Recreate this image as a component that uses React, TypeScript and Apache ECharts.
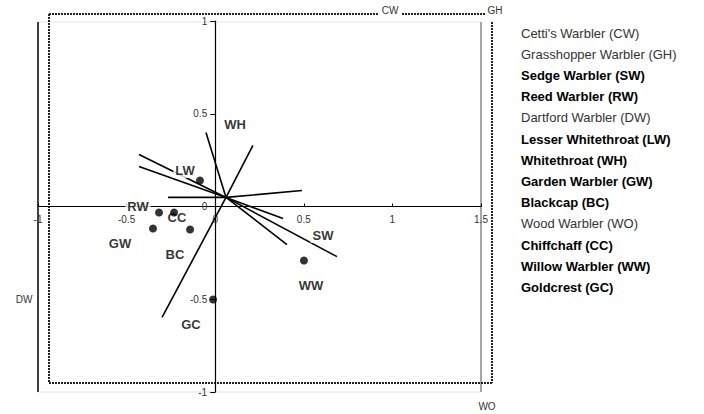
import React, { useEffect, useRef } from "react";
import * as echarts from "echarts";

const FONT = "'Liberation Sans', Arial, Helvetica, sans-serif";

// Origin of the variable vectors (data units)
const vectorOrigin: [number, number] = [0.061, 0.049];
// End points of the variable vectors (data units)
const vectorEndX = [-0.43, -0.43, -0.266, 0.49, -0.052, 0.213, -0.3, 0.383, 0.405, 0.687];
const vectorEndY = [0.28, 0.216, 0.049, 0.086, 0.399, 0.329, -0.598, -0.065, -0.205, -0.27];

// Site / species points
const pointCodes = ["LW", "RW", "CC", "GW", "BC", "WW", "GC"];
const pointX = [-0.086, -0.317, -0.232, -0.351, -0.142, 0.501, -0.012];
const pointY = [0.14, -0.032, -0.032, -0.119, -0.124, -0.291, -0.501];

// Text labels inside the plot
const labelCodes = ["WH", "LW", "RW", "CC", "GW", "BC", "SW", "WW", "GC"];
const labelX = [0.112, -0.17, -0.436, -0.216, -0.537, -0.227, 0.608, 0.541, -0.137];
const labelY = [0.442, 0.194, 0.0, -0.059, -0.199, -0.259, -0.156, -0.426, -0.636];

// Axis ranges
const xMin = -1;
const xMax = 1.5;
const yMin = -1;
const yMax = 1;
const tickStep = 0.5;

// Legend list
const legendNames = [
  "Cetti's Warbler (CW)",
  "Grasshopper Warbler (GH)",
  "Sedge Warbler (SW)",
  "Reed Warbler (RW)",
  "Dartford Warbler (DW)",
  "Lesser Whitethroat (LW)",
  "Whitethroat (WH)",
  "Garden Warbler (GW)",
  "Blackcap (BC)",
  "Wood Warbler (WO)",
  "Chiffchaff (CC)",
  "Willow Warbler (WW)",
  "Goldcrest (GC)",
];
const legendBold = [false, false, true, true, false, true, true, true, true, false, true, true, true];

// Species plotted off-axis
const outerCodes = ["CW", "GH", "DW", "WO"];

const GRID = { left: 38, top: 21, width: 443, height: 371 };

export default function App() {
  const ref = useRef<HTMLDivElement>(null);

  useEffect(() => {
    if (!ref.current) return;
    const chart = echarts.init(ref.current, undefined, { renderer: "svg" });

    // place each axis where the other axis is zero
    const xAxisOffset = -((0 - yMin) / (yMax - yMin)) * GRID.height;
    const yAxisOffset = -((0 - xMin) / (xMax - xMin)) * GRID.width;

    const vectorSeries = vectorEndX.map((ex, i) => ({
      type: "line",
      data: [vectorOrigin, [ex, vectorEndY[i]]],
      symbol: "none",
      silent: true,
      z: 2,
      lineStyle: { color: "#000", width: 1.6 },
    }));

    const dotted = { stroke: "#222", lineWidth: 2, lineDash: [2, 1] };
    const outerPos: Record<string, [number, number]> = {
      CW: [390, 10],
      GH: [495, 10],
      DW: [24, 299],
      WO: [487, 406],
    };

    const graphic: any[] = [
      // plot frame
      { type: "line", shape: { x1: 38, y1: 22, x2: 481, y2: 22 }, style: { stroke: "#e4e4e4", lineWidth: 1 } },
      { type: "line", shape: { x1: 38, y1: 392, x2: 481, y2: 392 }, style: { stroke: "#e4e4e4", lineWidth: 1 } },
      { type: "line", shape: { x1: 38, y1: 22, x2: 38, y2: 392 }, style: { stroke: "#000", lineWidth: 1.5 } },
      { type: "line", shape: { x1: 481, y1: 22, x2: 481, y2: 392 }, style: { stroke: "#888", lineWidth: 1.5 } },
      // dotted box
      { type: "line", shape: { x1: 49, y1: 14, x2: 379, y2: 14 }, style: dotted },
      { type: "line", shape: { x1: 402, y1: 14, x2: 486, y2: 14 }, style: dotted },
      { type: "line", shape: { x1: 49, y1: 14, x2: 49, y2: 383 }, style: dotted },
      { type: "line", shape: { x1: 49, y1: 383, x2: 492, y2: 383 }, style: dotted },
      { type: "line", shape: { x1: 492, y1: 22, x2: 492, y2: 383 }, style: dotted },
    ];
    outerCodes.forEach((c) => {
      const p = outerPos[c];
      graphic.push({
        type: "text",
        x: p[0],
        y: p[1],
        style: { text: c, font: `10px ${FONT}`, fill: "#333", align: "center", verticalAlign: "middle" },
      });
    });
    legendNames.forEach((n, i) => {
      graphic.push({
        type: "text",
        x: 521,
        y: 33 + i * 21.2,
        style: {
          text: n,
          font: `${legendBold[i] ? "bold " : ""}13px ${FONT}`,
          fill: legendBold[i] ? "#000" : "#333",
          align: "left",
          verticalAlign: "middle",
        },
      });
    });

    chart.setOption({
      animation: false,
      grid: { ...GRID, containLabel: false },
      xAxis: {
        type: "value",
        min: xMin,
        max: xMax,
        interval: tickStep,
        position: "bottom",
        offset: xAxisOffset,
        splitLine: { show: false },
        axisLine: { onZero: false, lineStyle: { color: "#000", width: 1.2 } },
        axisTick: { inside: true, length: 3, lineStyle: { color: "#000" } },
        axisLabel: { color: "#333", fontSize: 10, fontFamily: FONT, margin: 8 },
      },
      yAxis: {
        type: "value",
        min: yMin,
        max: yMax,
        interval: tickStep,
        position: "left",
        offset: yAxisOffset,
        splitLine: { show: false },
        axisLine: { onZero: false, lineStyle: { color: "#000", width: 1.2 } },
        axisTick: { inside: false, length: 5, lineStyle: { color: "#000" } },
        axisLabel: { color: "#333", fontSize: 10, fontFamily: FONT, margin: 8 },
      },
      graphic,
      series: [
        ...vectorSeries,
        {
          type: "scatter",
          data: labelCodes.map((c, i) => ({ name: c, value: [labelX[i], labelY[i]] })),
          symbolSize: 0,
          silent: true,
          z: 5,
          label: {
            show: true,
            position: "inside",
            formatter: (p: any) => p.name,
            color: "#000",
            fontWeight: "bold",
            fontSize: 13,
            fontFamily: FONT,
            backgroundColor: "#fff",
            padding: [1, 2],
          },
        },
        {
          type: "scatter",
          data: pointCodes.map((c, i) => ({ name: c, value: [pointX[i], pointY[i]] })),
          symbol: "circle",
          symbolSize: 8,
          silent: true,
          z: 6,
          itemStyle: { color: "#000" },
        },
      ],
    });

    return () => chart.dispose();
  }, []);

  return <div ref={ref} style={{ position: "absolute", left: 0, top: 0, width: 704, height: 414 }} />;
}
